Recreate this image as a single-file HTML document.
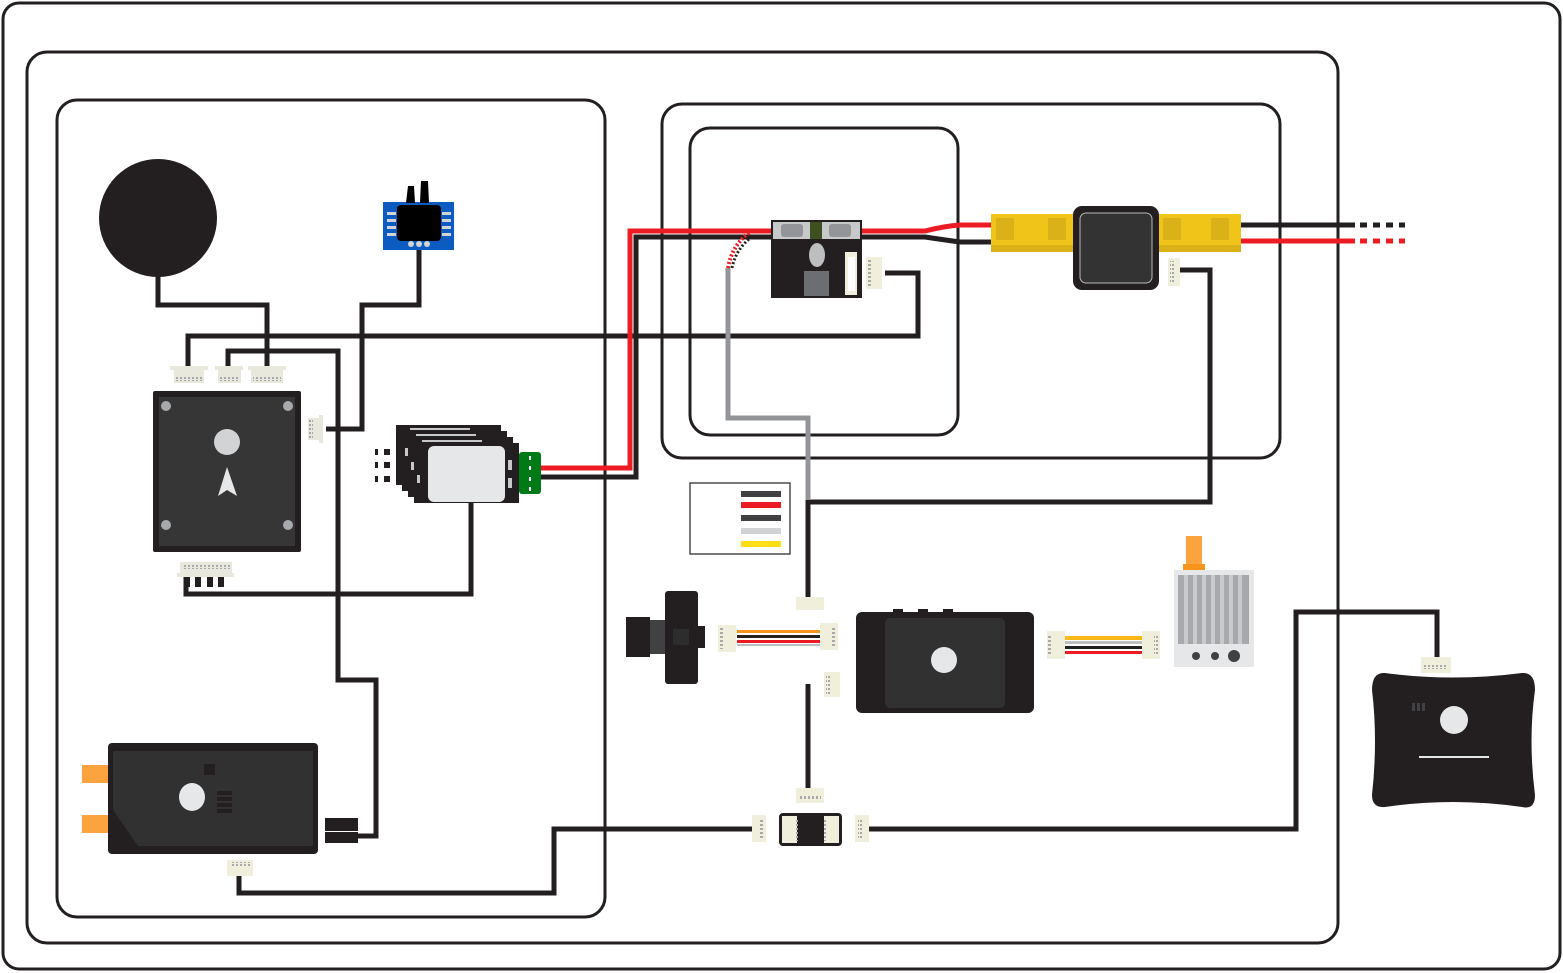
<!DOCTYPE html>
<html><head><meta charset="utf-8"><style>html,body{margin:0;padding:0;background:#fff}svg{display:block}</style></head>
<body>
<svg width="1563" height="973" viewBox="0 0 1563 973" xmlns="http://www.w3.org/2000/svg">
<defs>
<pattern id="pv" width="4" height="4" patternUnits="userSpaceOnUse"><rect x="0" y="0" width="2" height="3" fill="#a7a9ac"/></pattern>
<pattern id="ph" width="4" height="4" patternUnits="userSpaceOnUse"><rect x="0" y="0" width="3" height="2" fill="#a7a9ac"/></pattern>
</defs>
<!-- frames -->
<rect x="3" y="3" width="1557" height="966" rx="16" fill="none" stroke="#231f20" stroke-width="3"/>
<rect x="27" y="52" width="1311" height="891" rx="20" fill="none" stroke="#231f20" stroke-width="3"/>
<rect x="57" y="100" width="548" height="817" rx="20" fill="none" stroke="#231f20" stroke-width="3"/>
<rect x="662" y="104" width="618" height="354" rx="20" fill="none" stroke="#231f20" stroke-width="3"/>
<rect x="690" y="128" width="268" height="307" rx="20" fill="none" stroke="#231f20" stroke-width="3"/>

<g fill="none" stroke="#231f20" stroke-width="5" stroke-linejoin="miter">
<polyline points="158,270 158,305 267,305 267,368"/>
<polyline points="419,248 419,305 362,305 362,429 326,429"/>
<polyline points="188,368 188,336 918,336 918,273 885,273"/>
<polyline points="228,368 228,351 338,351 338,680 376,680 376,836 355,836"/>
<polyline points="186,577 186,594 471,594 471,503"/>
<polyline points="540,477 636,477 636,237 780,237"/>
<polyline points="1180,270 1210,270 1210,502 808,502 808,597"/>
<polyline points="808,684 808,790"/>
<polyline points="752,829 554,829 554,893 239,893 239,875"/>
<polyline points="869,829 1296,829 1296,612 1437,612 1437,660"/>
<path d="M862,237 L925,237 Q945,240 960,242 L992,242"/>
<polyline points="1240,225 1355,225"/>
<line x1="1360" y1="225" x2="1405" y2="225" stroke-dasharray="7,6"/>
</g>
<g fill="none" stroke="#ed1c24" stroke-width="5">
<polyline points="540,468 630,468 630,231 780,231"/>
<path d="M855,231 L925,231 Q945,226 960,225 L992,225"/>
<polyline points="1240,241 1355,241"/>
<line x1="1360" y1="241" x2="1405" y2="241" stroke-dasharray="7,6"/>
</g>
<polyline points="728,268 728,418 808,418 808,500" fill="none" stroke="#939598" stroke-width="5"/>
<path d="M728,268 Q732,245 750,232" fill="none" stroke="#ed1c24" stroke-width="4" stroke-dasharray="2,2"/>
<path d="M732,268 Q736,248 753,236" fill="none" stroke="#231f20" stroke-width="3" stroke-dasharray="2,2"/>

<circle cx="158" cy="218" r="59" fill="#231f20"/>

<!-- blue sensor -->
<rect x="383" y="202" width="71" height="48" fill="#0b5bc0"/>
<rect x="397" y="205" width="44" height="36" rx="4" fill="#000"/>
<path d="M406,203 L408,186 L414,186 L415,203Z M420,203 L421,181 L428,181 L429,203Z" fill="#000"/>
<g fill="#d1d3d4"><rect x="387" y="212" width="9" height="3"/><rect x="387" y="219" width="9" height="3"/><rect x="387" y="226" width="9" height="3"/><rect x="387" y="233" width="9" height="3"/>
<rect x="442" y="212" width="9" height="3"/><rect x="442" y="219" width="9" height="3"/><rect x="442" y="226" width="9" height="3"/><rect x="442" y="233" width="9" height="3"/>
<circle cx="411" cy="244" r="3"/><circle cx="419" cy="244" r="3"/><circle cx="427" cy="244" r="3"/></g>

<!-- flight controller -->
<rect x="153" y="391" width="148" height="161" rx="2" fill="#231f20"/>
<rect x="159" y="397" width="136" height="149" fill="#363636"/>
<g fill="#a7a9ac"><circle cx="166" cy="406" r="5"/><circle cx="288" cy="406" r="5"/><circle cx="166" cy="525" r="5"/><circle cx="288" cy="525" r="5"/></g>
<circle cx="227" cy="442" r="13" fill="#d1d3d4"/>
<path d="M227,467 L218,496 L227,490 L237,496Z" fill="#e6e7e8"/>
<g fill="#e9e8dc"><rect x="170" y="366" width="38" height="4"/><rect x="174" y="369" width="30" height="14"/>
<rect x="215" y="366" width="28" height="4"/><rect x="218" y="369" width="23" height="14"/>
<rect x="248" y="366" width="38" height="4"/><rect x="251" y="369" width="32" height="14"/>
<rect x="180" y="562" width="52" height="12"/><rect x="177" y="573" width="57" height="4"/>
<rect x="308" y="418" width="12" height="22"/><rect x="319" y="415" width="4" height="28"/></g>
<g fill="url(#pv)"><rect x="176" y="377" width="28" height="4"/><rect x="220" y="377" width="20" height="4"/><rect x="253" y="377" width="28" height="4"/><rect x="182" y="565" width="48" height="4"/></g>
<rect x="309" y="420" width="4" height="18" fill="url(#ph)"/>
<g fill="#231f20"><rect x="184" y="577" width="6" height="10"/><rect x="195" y="577" width="6" height="10"/><rect x="207" y="577" width="6" height="10"/><rect x="218" y="577" width="6" height="10"/></g>

<!-- GPS stack -->
<g fill="#231f20"><rect x="396" y="425" width="105" height="60"/><rect x="402" y="431" width="105" height="60"/><rect x="408" y="437" width="105" height="60"/><rect x="414" y="443" width="105" height="60"/></g>
<g fill="#c7c8ca"><rect x="410" y="428" width="60" height="2"/><rect x="416" y="434" width="60" height="2"/><rect x="422" y="440" width="60" height="2"/><rect x="405" y="448" width="3" height="8"/><rect x="411" y="462" width="3" height="8"/><rect x="417" y="475" width="3" height="8"/><rect x="508" y="460" width="4" height="10"/><rect x="508" y="478" width="4" height="10"/></g>
<rect x="428" y="446" width="77" height="56" rx="6" fill="#e6e7e8"/>
<rect x="519" y="452" width="22" height="42" rx="3" fill="#007a16"/>
<g fill="#fff"><rect x="529" y="456" width="2" height="4"/><rect x="529" y="466" width="2" height="4"/><rect x="529" y="477" width="2" height="4"/><rect x="529" y="487" width="2" height="4"/></g>
<g fill="#231f20"><rect x="375" y="449" width="3" height="6"/><rect x="384" y="449" width="6" height="6"/><rect x="375" y="462" width="3" height="6"/><rect x="384" y="462" width="6" height="6"/><rect x="375" y="476" width="3" height="6"/><rect x="384" y="476" width="6" height="6"/></g>

<!-- power module -->
<rect x="771" y="220" width="91" height="78" fill="#231f20"/>
<rect x="773" y="222" width="87" height="17" fill="#c7c8ca"/>
<rect x="810" y="222" width="12" height="17" fill="#3f5020"/>
<rect x="781" y="224" width="22" height="13" rx="3" fill="#939598"/><rect x="829" y="224" width="22" height="13" rx="3" fill="#939598"/>
<ellipse cx="817" cy="255" rx="8" ry="12" fill="#bcbec0"/>
<rect x="804" y="271" width="25" height="25" fill="#6d6e71"/>
<rect x="845" y="252" width="12" height="43" fill="#efefdb"/>
<rect x="848" y="257" width="7" height="34" fill="#fff"/>
<rect x="866" y="257" width="16" height="32" fill="#efefdb"/>
<rect x="868" y="260" width="4" height="26" fill="url(#ph)"/>

<!-- XT60 and sensor -->
<rect x="991" y="214" width="250" height="38" fill="#f0c419"/>
<g fill="#dbb11a"><rect x="996" y="218" width="18" height="22"/><rect x="1048" y="218" width="18" height="22"/><rect x="1163" y="218" width="18" height="22"/><rect x="1211" y="218" width="18" height="22"/><rect x="991" y="245" width="250" height="7"/></g>
<rect x="1073" y="206" width="86" height="84" rx="9" fill="#231f20"/>
<rect x="1080" y="213" width="72" height="70" rx="6" fill="#333" stroke="#bbb" stroke-width="1"/>
<rect x="1168" y="258" width="12" height="28" fill="#efefdb"/>
<rect x="1170" y="261" width="4" height="22" fill="url(#ph)"/>

<!-- legend -->
<rect x="690" y="483" width="100" height="71" fill="#fff" stroke="#231f20" stroke-width="1.2"/>
<rect x="741" y="491" width="40" height="6" fill="#414042"/>
<rect x="741" y="502" width="40" height="6" fill="#ed1c24"/>
<rect x="741" y="515" width="40" height="6" fill="#414042"/>
<rect x="741" y="528" width="40" height="6" fill="#d1d3d4"/>
<rect x="741" y="541" width="40" height="6" fill="#ffde17"/>

<!-- camera -->
<rect x="626" y="617" width="24" height="40" fill="#231f20"/>
<rect x="650" y="620" width="15" height="34" fill="#414042"/>
<rect x="665" y="591" width="33" height="93" rx="3" fill="#231f20"/>
<rect x="697" y="626" width="8" height="22" fill="#231f20"/>
<rect x="673" y="629" width="16" height="16" fill="#2d2d2d"/>
<g fill="#efefdb"><rect x="718" y="625" width="18" height="27"/><rect x="820" y="623" width="18" height="27"/><rect x="796" y="597" width="28" height="13"/><rect x="824" y="672" width="16" height="25"/></g>
<g fill="url(#ph)"><rect x="720" y="628" width="4" height="21"/><rect x="832" y="626" width="4" height="21"/><rect x="826" y="675" width="4" height="19"/></g>
<rect x="737" y="630" width="83" height="3" fill="#f7941d"/>
<rect x="737" y="635" width="83" height="3" fill="#231f20"/>
<rect x="737" y="640" width="83" height="3" fill="#ed1c24"/>
<rect x="737" y="644" width="83" height="2" fill="#bcbec0"/>

<!-- OSD/VTX box -->
<rect x="856" y="612" width="178" height="101" rx="6" fill="#231f20"/>
<rect x="893" y="609" width="10" height="5" fill="#231f20"/><rect x="918" y="609" width="10" height="5" fill="#231f20"/><rect x="943" y="609" width="10" height="5" fill="#231f20"/>
<rect x="885" y="618" width="120" height="90" rx="5" fill="#313131"/>
<circle cx="944" cy="660" r="13" fill="#e6e7e8"/>

<!-- wires to transmitter -->
<g fill="#efefdb"><rect x="1047" y="631" width="18" height="28"/><rect x="1142" y="631" width="18" height="28"/></g>
<g fill="url(#ph)"><rect x="1048" y="634" width="4" height="22"/><rect x="1154" y="634" width="4" height="22"/></g>
<rect x="1065" y="636" width="77" height="4" fill="#fbb617"/>
<rect x="1065" y="641" width="77" height="3" fill="#bcbec0"/>
<rect x="1065" y="646" width="77" height="3" fill="#231f20"/>
<rect x="1065" y="651" width="77" height="3" fill="#ed1c24"/>

<!-- transmitter -->
<rect x="1186" y="536" width="16" height="30" fill="#fba33f"/>
<rect x="1183" y="564" width="22" height="6" fill="#f7941d"/>
<rect x="1174" y="570" width="80" height="97" fill="#e6e7e8"/>
<rect x="1178" y="575" width="71" height="69" fill="#a7a9ac"/>
<g fill="#c9cacc"><rect x="1184" y="575" width="4" height="69"/><rect x="1193" y="575" width="4" height="69"/><rect x="1202" y="575" width="4" height="69"/><rect x="1211" y="575" width="4" height="69"/><rect x="1220" y="575" width="4" height="69"/><rect x="1229" y="575" width="4" height="69"/><rect x="1238" y="575" width="4" height="69"/></g>
<circle cx="1196" cy="656" r="4" fill="#414042"/><circle cx="1215" cy="656" r="4" fill="#414042"/><circle cx="1234" cy="656" r="6" fill="#414042"/>

<!-- remote controller -->
<rect x="1421" y="657" width="30" height="16" fill="#efefdb"/>
<rect x="1424" y="665" width="24" height="4" fill="url(#pv)"/>
<path d="M1385,673 Q1453,682 1522,673 Q1535,672 1535,690 Q1528,740 1535,795 Q1535,810 1522,807 Q1453,797 1385,807 Q1372,808 1372,795 Q1378,740 1372,690 Q1372,672 1385,673Z" fill="#231f20"/>
<circle cx="1454" cy="720" r="14" fill="#e6e7e8"/>
<rect x="1419" y="756" width="70" height="2" fill="#e6e7e8"/>
<g fill="#414042"><rect x="1412" y="703" width="3" height="8"/><rect x="1417" y="703" width="3" height="8"/><rect x="1422" y="703" width="3" height="8"/></g>

<!-- filter -->
<rect x="796" y="788" width="28" height="15" fill="#efefdb"/>
<rect x="799" y="796" width="22" height="4" fill="url(#pv)"/>
<rect x="779" y="813" width="63" height="33" rx="4" fill="#231f20"/>
<rect x="782" y="816" width="15" height="27" fill="#efefdb"/><rect x="824" y="816" width="15" height="27" fill="#efefdb"/>
<g fill="url(#ph)"><rect x="795" y="818" width="3" height="23"/><rect x="823" y="818" width="3" height="23"/></g>
<rect x="752" y="815" width="14" height="27" fill="#efefdb"/><rect x="855" y="815" width="14" height="27" fill="#efefdb"/>
<g fill="url(#ph)"><rect x="760" y="818" width="4" height="21"/><rect x="858" y="818" width="4" height="21"/></g>

<!-- receiver -->
<rect x="82" y="765" width="27" height="18" fill="#fba33f"/>
<rect x="82" y="815" width="27" height="18" fill="#fba33f"/>
<rect x="108" y="743" width="210" height="111" rx="4" fill="#231f20"/>
<path d="M113,751 L313,751 L313,846 L138,846 L113,810Z" fill="#313131"/>
<rect x="204" y="764" width="11" height="11" fill="#231f20"/>
<ellipse cx="192" cy="797" rx="13" ry="14" fill="#e6e7e8"/>
<g fill="#231f20"><rect x="217" y="791" width="15" height="4"/><rect x="217" y="797" width="15" height="4"/><rect x="217" y="803" width="15" height="4"/><rect x="217" y="809" width="15" height="4"/></g>
<rect x="325" y="818" width="33" height="13" fill="#231f20"/>
<rect x="325" y="832" width="33" height="11" fill="#231f20"/>
<rect x="227" y="860" width="26" height="16" fill="#efefdb"/>
<rect x="230" y="862" width="20" height="4" fill="url(#pv)"/>
</svg>
</body></html>
